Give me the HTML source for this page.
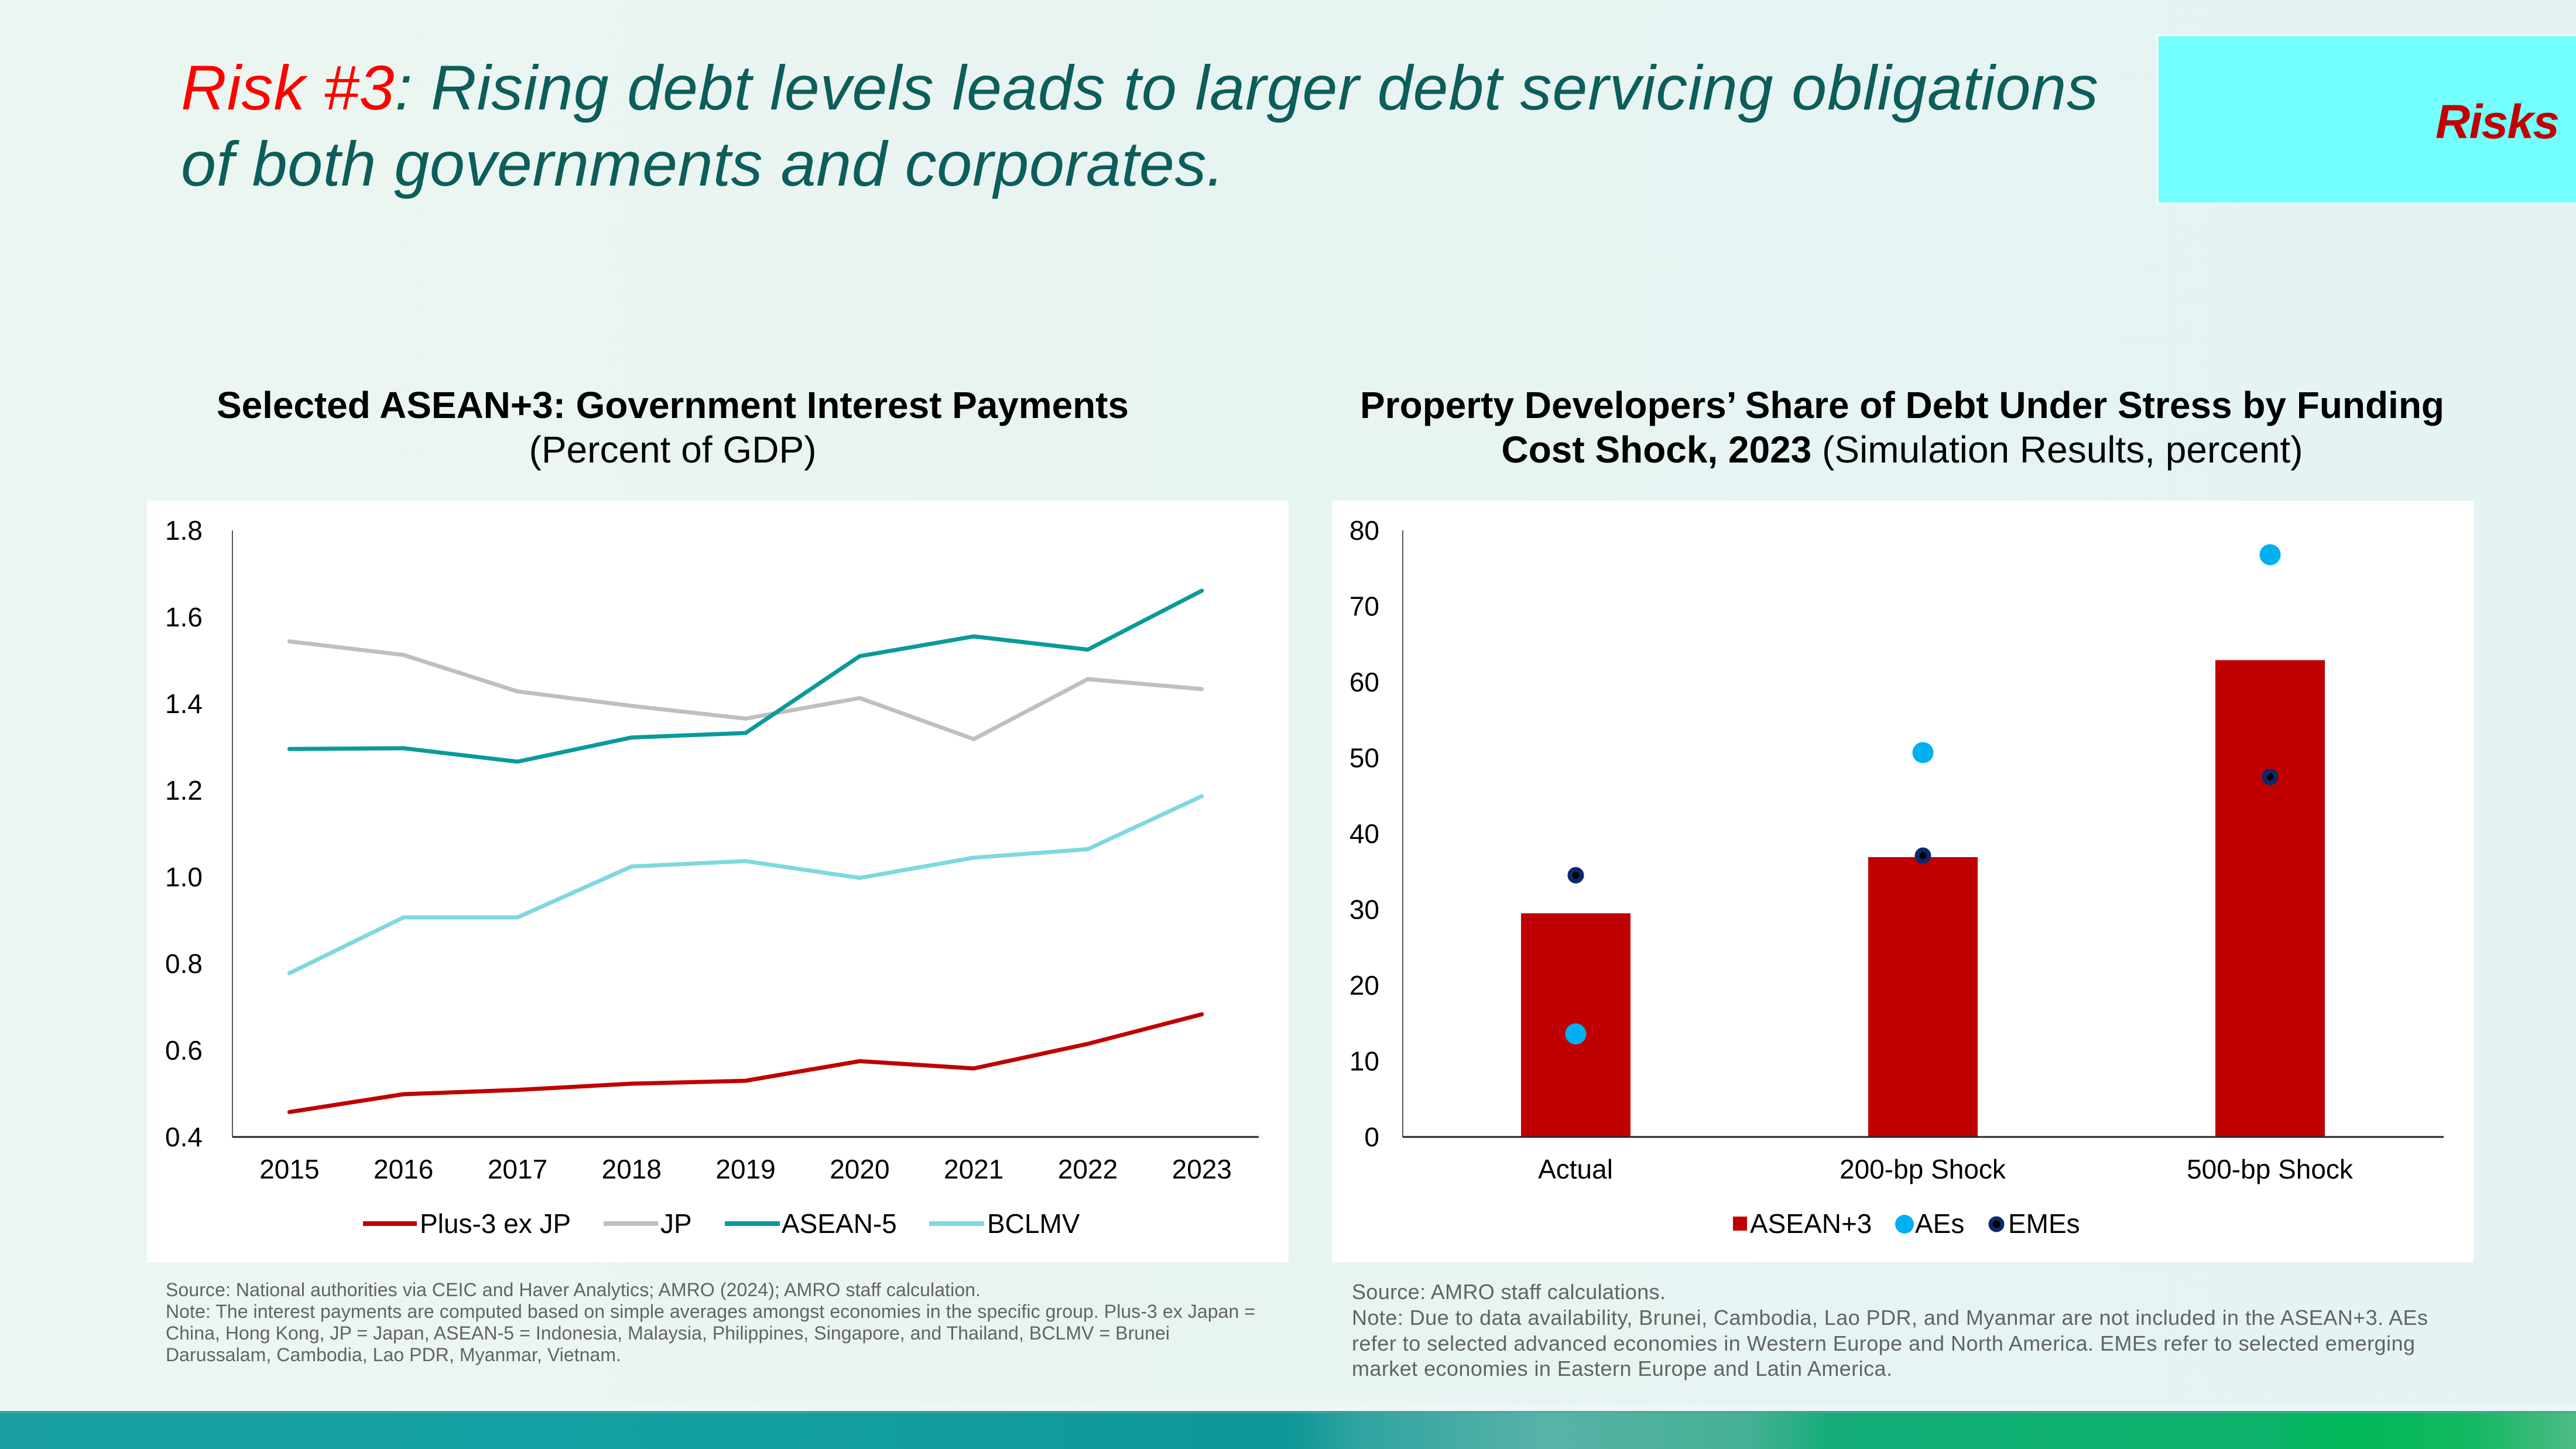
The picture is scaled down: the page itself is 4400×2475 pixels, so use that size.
<!DOCTYPE html>
<html>
<head>
<meta charset="utf-8">
<style>
html,body{margin:0;padding:0;width:4400px;height:2475px;overflow:hidden;background:#e8f4f2}
svg{display:block}
</style>
</head>
<body>
<svg width="4400" height="2475" viewBox="0 0 4400 2475" xmlns="http://www.w3.org/2000/svg" font-family="'Liberation Sans', Arial, sans-serif">
  <defs>
    <linearGradient id="bg" x1="0" y1="0" x2="1" y2="0">
      <stop offset="0" stop-color="#edf6f0"/>
      <stop offset="0.5" stop-color="#e8f4f2"/>
      <stop offset="1" stop-color="#e4f3f4"/>
    </linearGradient>
    <linearGradient id="strip" x1="0" y1="0" x2="0" y2="1">
      <stop offset="0" stop-color="#e8f4f3" stop-opacity="0"/>
      <stop offset="1" stop-color="#eef8f8"/>
    </linearGradient>
    <linearGradient id="banner" x1="0" y1="0" x2="1" y2="0">
      <stop offset="0" stop-color="#1aa0a3"/>
      <stop offset="0.2" stop-color="#14a0a2"/>
      <stop offset="0.38" stop-color="#129c9e"/>
      <stop offset="0.5" stop-color="#0f9797"/>
      <stop offset="0.53" stop-color="#32a4a1"/>
      <stop offset="0.6" stop-color="#58b3a8"/>
      <stop offset="0.68" stop-color="#44b093"/>
      <stop offset="0.71" stop-color="#14ad7a"/>
      <stop offset="0.88" stop-color="#0db36a"/>
      <stop offset="0.91" stop-color="#00b858"/>
      <stop offset="0.96" stop-color="#14b862"/>
      <stop offset="1" stop-color="#4dbb86"/>
    </linearGradient>
  </defs>

  <!-- background -->
  <rect x="0" y="0" width="4400" height="2475" fill="url(#bg)"/>
  <rect x="0" y="2385" width="4400" height="25" fill="url(#strip)"/>
  <!-- bottom banner -->
  <rect x="0" y="2410" width="4400" height="65" fill="url(#banner)"/>
  <rect x="0" y="2410" width="4400" height="4" fill="#5a9e9c" opacity="0.6"/>

  <!-- Risks box -->
  <rect x="3682" y="58" width="718" height="292" fill="#eef9f9"/>
  <rect x="3687" y="62" width="713" height="284" fill="#73ffff"/>
  <text x="4372" y="236" font-size="82" font-weight="bold" font-style="italic" fill="#c00000" text-anchor="end" textLength="212">Risks</text>

  <!-- main title -->
  <text x="309" y="187" font-size="108" font-style="italic" fill="#0c5e5a" textLength="3275"><tspan fill="#ff0000">Risk #3</tspan>: Rising debt levels leads to larger debt servicing obligations</text>
  <text x="309" y="317" font-size="108" font-style="italic" fill="#0c5e5a" textLength="1782">of both governments and corporates.</text>

  <!-- left chart title -->
  <text x="1149" y="714" font-size="64" font-weight="bold" fill="#000" text-anchor="middle" textLength="1558">Selected ASEAN+3: Government Interest Payments</text>
  <text x="1149" y="790" font-size="64" fill="#000" text-anchor="middle" textLength="491">(Percent of GDP)</text>

  <!-- right chart title -->
  <text x="3249" y="714" font-size="64" font-weight="bold" fill="#000" text-anchor="middle" textLength="1852">Property Developers’ Share of Debt Under Stress by Funding</text>
  <text x="3249" y="790" font-size="64" fill="#000" text-anchor="middle" textLength="1369"><tspan font-weight="bold">Cost Shock, 2023</tspan> (Simulation Results, percent)</text>

  <!-- panels -->
  <rect x="251" y="855" width="1950" height="1301" fill="#ffffff"/>
  <rect x="2275" y="855" width="1950" height="1301" fill="#ffffff"/>

  <!-- LEFT CHART -->
  <g font-size="46" fill="#000">
    <g text-anchor="end">
      <text x="346" y="922">1.8</text>
      <text x="346" y="1070">1.6</text>
      <text x="346" y="1218">1.4</text>
      <text x="346" y="1366">1.2</text>
      <text x="346" y="1514">1.0</text>
      <text x="346" y="1662">0.8</text>
      <text x="346" y="1810">0.6</text>
      <text x="346" y="1958">0.4</text>
    </g>
    <g text-anchor="middle">
      <text x="494.4" y="2013">2015</text>
      <text x="689.2" y="2013">2016</text>
      <text x="884" y="2013">2017</text>
      <text x="1078.8" y="2013">2018</text>
      <text x="1273.6" y="2013">2019</text>
      <text x="1468.4" y="2013">2020</text>
      <text x="1663.2" y="2013">2021</text>
      <text x="1858" y="2013">2022</text>
      <text x="2052.8" y="2013">2023</text>
    </g>
  </g>
  <line x1="397" y1="906" x2="397" y2="1942" stroke="#595959" stroke-width="2"/>
  <line x1="397" y1="1942" x2="2150" y2="1942" stroke="#262626" stroke-width="3"/>

  <g fill="none" stroke-width="7" stroke-linecap="round" stroke-linejoin="round">
    <polyline stroke="#bfbfbf" points="494.4,1095.5 689.2,1118.7 884,1181 1078.8,1205.7 1273.6,1227.4 1468.4,1192.3 1663.2,1262.5 1858,1160 2052.8,1177"/>
    <polyline stroke="#0a9a9a" points="494.4,1279.3 689.2,1278 884,1301 1078.8,1259.7 1273.6,1252 1468.4,1120.8 1663.2,1087 1858,1109.6 2052.8,1009"/>
    <polyline stroke="#7fd8df" points="494.4,1662.3 689.2,1567 884,1567 1078.8,1480 1273.6,1470.8 1468.4,1499.6 1663.2,1465 1858,1450.5 2052.8,1360"/>
    <polyline stroke="#c00000" points="494.4,1899.4 689.2,1869 884,1861.6 1078.8,1851 1273.6,1846 1468.4,1812.5 1663.2,1825 1858,1783 2052.8,1732.5"/>
  </g>

  <!-- left legend -->
  <g stroke-width="8">
    <line x1="620" y1="2090" x2="712" y2="2090" stroke="#c00000"/>
    <line x1="1031" y1="2090" x2="1124" y2="2090" stroke="#bfbfbf"/>
    <line x1="1238" y1="2090" x2="1332" y2="2090" stroke="#0a9a9a"/>
    <line x1="1587" y1="2090" x2="1681" y2="2090" stroke="#7fd8df"/>
  </g>
  <g font-size="46" fill="#000">
    <text x="717" y="2106">Plus-3 ex JP</text>
    <text x="1128" y="2106">JP</text>
    <text x="1335" y="2106">ASEAN-5</text>
    <text x="1686" y="2106">BCLMV</text>
  </g>

  <!-- RIGHT CHART -->
  <g font-size="46" fill="#000">
    <g text-anchor="end">
      <text x="2356" y="922">80</text>
      <text x="2356" y="1051.5">70</text>
      <text x="2356" y="1181">60</text>
      <text x="2356" y="1310.5">50</text>
      <text x="2356" y="1440">40</text>
      <text x="2356" y="1569.5">30</text>
      <text x="2356" y="1699">20</text>
      <text x="2356" y="1828.5">10</text>
      <text x="2356" y="1958">0</text>
    </g>
    <g text-anchor="middle">
      <text x="2691" y="2013">Actual</text>
      <text x="3284" y="2013">200-bp Shock</text>
      <text x="3877" y="2013">500-bp Shock</text>
    </g>
  </g>
  <line x1="2396" y1="906" x2="2396" y2="1942" stroke="#595959" stroke-width="2"/>

  <!-- bars -->
  <rect x="2598" y="1560" width="187" height="382" fill="#c00000"/>
  <rect x="3191" y="1464" width="187" height="478" fill="#c00000"/>
  <rect x="3784" y="1127.5" width="187" height="814.5" fill="#c00000"/>
  <line x1="2396" y1="1942" x2="4174" y2="1942" stroke="#262626" stroke-width="3"/>

  <!-- AEs dots -->
  <g fill="#00b0f0">
    <circle cx="2691.5" cy="1766" r="18"/>
    <circle cx="3284.5" cy="1285.5" r="18"/>
    <circle cx="3877.5" cy="947.5" r="18"/>
  </g>
  <!-- EMEs dots -->
  <g fill="#000" stroke="#0c2a6a" stroke-width="8">
    <circle cx="2691.5" cy="1495" r="10"/>
    <circle cx="3284.5" cy="1461.5" r="10"/>
    <circle cx="3877.5" cy="1327" r="10"/>
  </g>

  <!-- right legend -->
  <rect x="2960" y="2078" width="24" height="24" fill="#c00000"/>
  <circle cx="3253" cy="2091" r="16" fill="#00b0f0"/>
  <circle cx="3410" cy="2091" r="10" fill="#000" stroke="#0c2a6a" stroke-width="7"/>
  <g font-size="46" fill="#000">
    <text x="2989" y="2106">ASEAN+3</text>
    <text x="3271" y="2106">AEs</text>
    <text x="3430" y="2106">EMEs</text>
  </g>

  <!-- left footnotes -->
  <g font-size="32" fill="#636363">
    <text x="283" y="2214" textLength="1392">Source: National authorities via CEIC and Haver Analytics; AMRO (2024); AMRO staff calculation.</text>
    <text x="283" y="2251" textLength="1861">Note: The interest payments are computed based on simple averages amongst economies in the specific group. Plus-3 ex Japan =</text>
    <text x="283" y="2288" textLength="1715">China, Hong Kong, JP = Japan, ASEAN-5 = Indonesia, Malaysia, Philippines, Singapore, and Thailand, BCLMV = Brunei</text>
    <text x="283" y="2325" textLength="778">Darussalam, Cambodia, Lao PDR, Myanmar, Vietnam.</text>
  </g>

  <!-- right footnotes -->
  <g font-size="36" fill="#636363">
    <text x="2309" y="2219" textLength="536">Source: AMRO staff calculations.</text>
    <text x="2309" y="2263" textLength="1838">Note: Due to data availability, Brunei, Cambodia, Lao PDR, and Myanmar are not included in the ASEAN+3. AEs</text>
    <text x="2309" y="2307" textLength="1816">refer to selected advanced economies in Western Europe and North America. EMEs refer to selected emerging</text>
    <text x="2309" y="2350" textLength="923">market economies in Eastern Europe and Latin America.</text>
  </g>
</svg>
</body>
</html>
